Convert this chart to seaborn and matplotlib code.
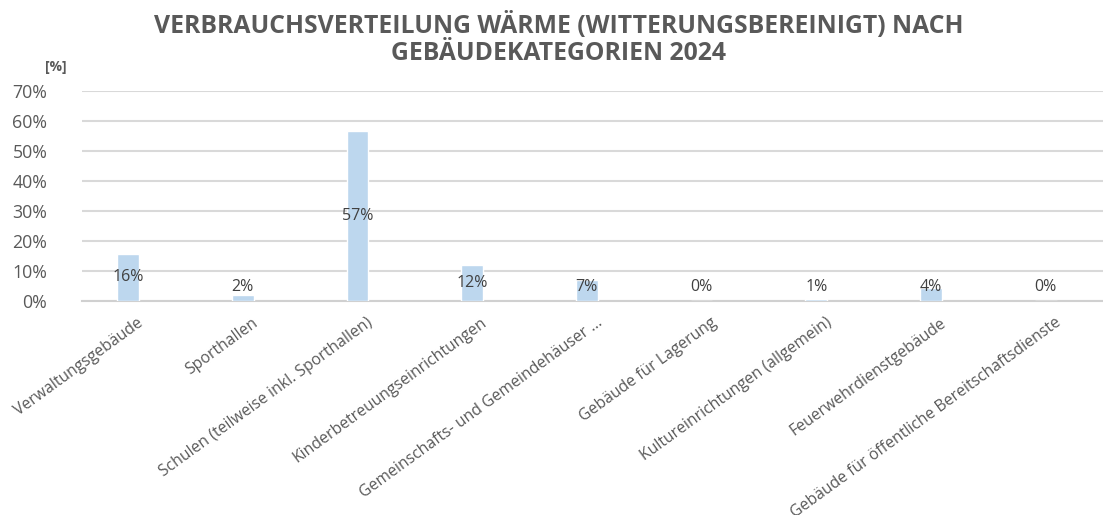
import matplotlib
matplotlib.use("Agg")
import matplotlib.pyplot as plt
import matplotlib.transforms as mtransforms
import seaborn as sns
import pandas as pd

categories = [
    "Verwaltungsgebäude",
    "Sporthallen",
    "Schulen (teilweise inkl. Sporthallen)",
    "Kinderbetreuungseinrichtungen",
    "Gemeinschafts- und Gemeindehäuser ...",
    "Gebäude für Lagerung",
    "Kultureinrichtungen (allgemein)",
    "Feuerwehrdienstgebäude",
    "Gebäude für öffentliche Bereitschaftsdienste",
]
values = [15.8, 1.9, 56.8, 11.9, 6.9, 0.1, 0.6, 4.2, 0.1]
y_ticks = [0, 10, 20, 30, 40, 50, 60, 70]
title = "VERBRAUCHSVERTEILUNG WÄRME (WITTERUNGSBEREINIGT) NACH\nGEBÄUDEKATEGORIEN 2024"

sns.set_theme(style="white")
plt.rcParams["font.family"] = ["Open Sans", "DejaVu Sans"]

W, H = 1103, 515
fig = plt.figure(figsize=(W / 100, H / 100), dpi=100)
ax = fig.add_axes([82 / W, (H - 301) / H, (W - 82) / W, 210 / H])

df = pd.DataFrame({"cat": categories, "val": values})
sns.barplot(data=df, x="cat", y="val", color="#BDD7EE", saturation=1,
            width=0.19, ax=ax, zorder=3)

ax.set_ylim(0, 70)
ax.set_xlim(-0.401, 8.50)
ax.set_yticks(y_ticks)
ax.set_yticklabels([f"{t}%" for t in y_ticks], fontsize=12.8, color="#595959")
ax.yaxis.grid(True, color="#d9d9d9", linewidth=1.5, zorder=0)
ax.set_axisbelow(True)
for s in ["top", "right", "left"]:
    ax.spines[s].set_visible(False)
ax.spines["bottom"].set_color("#d0d0d0")
ax.spines["bottom"].set_linewidth(1.5)
ax.tick_params(axis="both", length=0)
ax.tick_params(axis="y", pad=25)
ax.set_xlabel("")
ax.set_ylabel("")

ax.set_xticks(range(len(categories)))
ax.set_xticklabels(categories, rotation=36, ha="right", rotation_mode="anchor",
                   fontsize=11.3, color="#595959")
ax.tick_params(axis="x", pad=10)
off = mtransforms.ScaledTranslation(0.09, 0.0, fig.dpi_scale_trans)
for lbl in ax.get_xticklabels():
    lbl.set_transform(lbl.get_transform() + off)

for i, v in enumerate(values):
    ax.text(i, max(v / 2, 4.7), f"{round(v)}%", ha="center", va="center",
            fontsize=11.5, color="#404040", zorder=4)

fig.text(558.5 / W, 1 - 39 / H, title, ha="center", va="center", fontsize=17.8,
         fontweight="bold", color="#595959", linespacing=1.12)
fig.text(56 / W, 1 - 67 / H, "[%]", ha="center", va="center", fontsize=10,
         fontweight="bold", color="#595959")

fig.savefig("out.png", dpi=100)
